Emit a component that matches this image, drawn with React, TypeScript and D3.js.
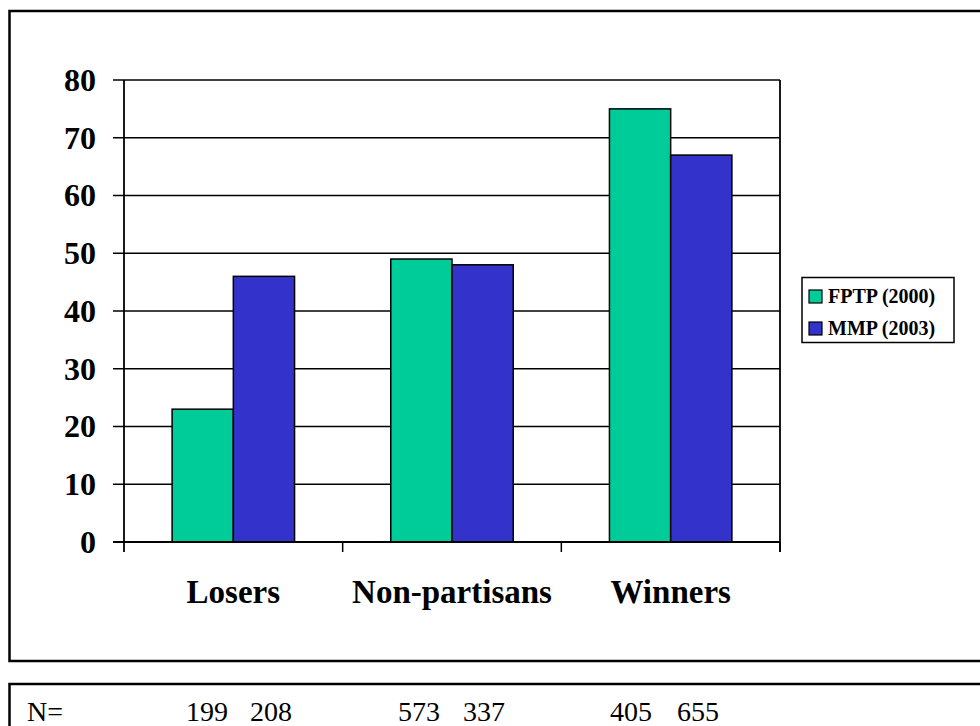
import React from 'react';
import * as d3 from 'd3';

const categories = ['Losers', 'Non-partisans', 'Winners'];
const seriesNames = ['FPTP (2000)', 'MMP (2003)'];
const fptp = [23, 49, 75];
const mmp = [46, 48, 67];
const yTicks = [0, 10, 20, 30, 40, 50, 60, 70, 80];
const nCounts = ['199', '208', '573', '337', '405', '655'];

const colors = ['#00CC99', '#3333CC'];

const App = () => {
  const width = 980;
  const height = 726;
  const plot = { left: 124, right: 780, top: 80, bottom: 542 };
  const serif = '"Liberation Serif", "Times New Roman", serif';

  const x0 = d3.scaleBand().domain(categories).range([plot.left, plot.right]).padding(0);
  const bw = x0.bandwidth();
  const x1 = d3.scaleBand().domain(seriesNames).range([bw * 0.22, bw * 0.78]).padding(0);
  const y = d3.scaleLinear().domain([0, 80]).range([plot.bottom, plot.top]);

  const values = [fptp, mmp];
  // x positions of the N= counts, two per category
  const nX = [186, 250, 398, 463, 610, 677];

  return (
    <svg width={width} height={height} style={{ position: 'absolute', left: 0, top: 0, background: '#fff' }}>
      {/* outer frames */}
      <rect x={9.5} y={11} width={1000} height={650} fill="none" stroke="#000" strokeWidth={2.5} />
      <rect x={9.5} y={684} width={1000} height={100} fill="none" stroke="#000" strokeWidth={2.5} />

      {/* gridlines */}
      {yTicks.map(t => (
        <line key={'g' + t} x1={plot.left - 11} x2={plot.right} y1={y(t)} y2={y(t)} stroke="#000" strokeWidth={1.5} />
      ))}
      {/* right border */}
      <line x1={plot.right} x2={plot.right} y1={plot.top} y2={plot.bottom + 10} stroke="#000" strokeWidth={1.8} />

      {/* bars */}
      {categories.map((c, i) => (
        <g key={c} transform={`translate(${x0(c)},0)`}>
          {seriesNames.map((s, j) => (
            <rect
              key={s}
              x={x1(s)}
              y={y(values[j][i])}
              width={x1.bandwidth()}
              height={y(0) - y(values[j][i])}
              fill={colors[j]}
              stroke="#000"
              strokeWidth={1.5}
            />
          ))}
        </g>
      ))}

      {/* axes */}
      <line x1={plot.left} x2={plot.left} y1={plot.top} y2={plot.bottom + 10} stroke="#000" strokeWidth={1.8} />
      <line x1={plot.left - 11} x2={plot.right} y1={plot.bottom} y2={plot.bottom} stroke="#000" strokeWidth={1.8} />
      {categories.map(c => (
        <line key={'t' + c} x1={x0(c)! + bw} x2={x0(c)! + bw} y1={plot.bottom} y2={plot.bottom + 10} stroke="#000" strokeWidth={1.5} />
      ))}

      {yTicks.map(t => (
        <text key={'l' + t} x={96} y={y(t)} dy="0.34em" textAnchor="end" fontFamily={serif} fontWeight="bold" fontSize={32}>
          {t}
        </text>
      ))}

      {categories.map(c => (
        <text key={'c' + c} x={x0(c)! + bw / 2} y={603} textAnchor="middle" fontFamily={serif} fontWeight="bold" fontSize={33}>
          {c}
        </text>
      ))}

      {/* legend */}
      <rect x={802} y={277.5} width={152} height={65} fill="#fff" stroke="#000" strokeWidth={1.5} />
      {seriesNames.map((s, j) => (
        <g key={'lg' + s} transform={`translate(809,${290 + j * 32})`}>
          <rect x={0} y={0} width={13} height={13} fill={colors[j]} stroke="#000" strokeWidth={1.2} />
          <text x={19} y={12.5} fontFamily={serif} fontWeight="bold" fontSize={20}>
            {s}
          </text>
        </g>
      ))}

      {/* sample sizes */}
      <text x={27} y={721} fontFamily={serif} fontSize={28}>N=</text>
      {nCounts.map((n, i) => (
        <text key={'n' + i} x={nX[i]} y={721} fontFamily={serif} fontSize={28}>
          {n}
        </text>
      ))}
    </svg>
  );
};

export default App;
